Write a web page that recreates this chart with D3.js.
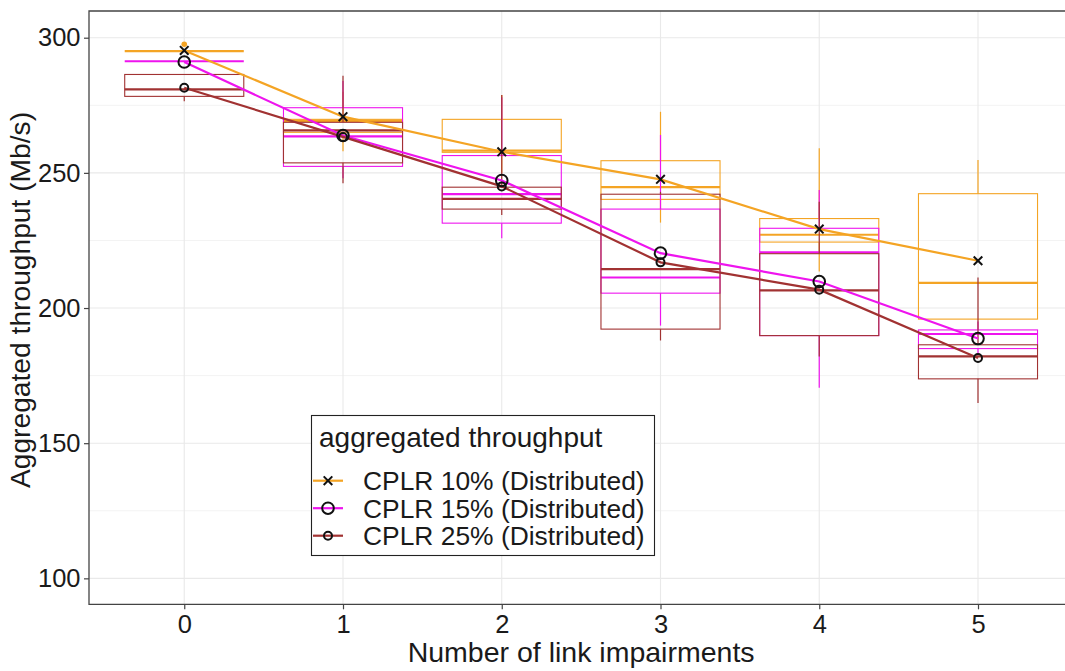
<!DOCTYPE html>
<html>
<head>
<meta charset="utf-8">
<script src="https://cdn.jsdelivr.net/npm/d3@7"></script>
<style>
  html, body { margin: 0; padding: 0; background: #ffffff; }
  svg { display: block; }
  text { font-family: "Liberation Sans", Arial, sans-serif; fill: #1a1a1a; }
</style>
</head>
<body>
<svg id="chart" width="1065" height="671"></svg>
<script>
// Number of link impairments on the x axis
const impairments = [0, 1, 2, 3, 4, 5];
const xTickLabels = ["0", "1", "2", "3", "4", "5"];
const yTicks = [100, 150, 200, 250, 300];
const yMinorTicks = [125, 175, 225, 275];

// Box summaries per impairment count: [lower whisker, Q1, median, Q3, upper whisker]
const cplr10Box = [
  [295.0, 295.0, 295.0, 295.0, 295.0],
  [258.0, 265.0, 269.2, 269.8, 280.0],
  [250.0, 257.6, 258.2, 269.8, 278.8],
  [231.6, 240.2, 244.7, 254.5, 272.6],
  [213.5, 224.4, 227.1, 233.1, 259.1],
  [195.9, 195.9, 209.3, 242.3, 254.8]
];
const cplr15Box = [
  [291.3, 291.3, 291.3, 291.3, 291.3],
  [248.0, 252.4, 263.5, 274.1, 284.0],
  [225.8, 231.4, 242.1, 256.4, 278.0],
  [193.5, 205.5, 211.3, 236.6, 264.0],
  [170.5, 189.8, 220.6, 229.5, 243.7],
  [183.0, 185.0, 190.4, 191.9, 195.0]
];
const cplr25Box = [
  [276.5, 278.3, 280.9, 286.4, 286.4],
  [246.2, 253.7, 265.7, 268.7, 285.9],
  [234.4, 236.6, 240.4, 244.7, 278.8],
  [188.0, 192.2, 214.4, 242.1, 243.0],
  [182.1, 189.8, 206.5, 220.1, 239.3],
  [164.9, 173.8, 182.1, 186.4, 211.3]
];

// Outlying observations (impairments, throughput)
const cplr10OutlierX = [0];
const cplr10OutlierY = [297.6];

// Mean aggregated throughput per impairment count
const cplr10Mean = [295.3, 270.8, 257.8, 247.6, 229.2, 217.5];
const cplr15Mean = [291.0, 263.8, 247.2, 220.3, 209.8, 188.7];
const cplr25Mean = [281.5, 263.3, 245.0, 216.9, 206.8, 181.5];

const seriesNames = ["CPLR 10% (Distributed)", "CPLR 15% (Distributed)", "CPLR 25% (Distributed)"];
const seriesColors = ["#F4A424", "#EE14EE", "#A13232"];
const seriesShapes = ["cross", "bigCircle", "smallCircle"];

const series = [
  { name: seriesNames[0], color: seriesColors[0], shape: seriesShapes[0], box: cplr10Box, mean: cplr10Mean,
    outliers: cplr10OutlierX.map((x, i) => [x, cplr10OutlierY[i]]) },
  { name: seriesNames[1], color: seriesColors[1], shape: seriesShapes[1], box: cplr15Box, mean: cplr15Mean, outliers: [] },
  { name: seriesNames[2], color: seriesColors[2], shape: seriesShapes[2], box: cplr25Box, mean: cplr25Mean, outliers: [] }
];

const svg = d3.select("#chart");
svg.append("rect").attr("width", 1065).attr("height", 671).attr("fill", "#ffffff");

// Panel geometry (right side runs past the canvas edge)
const panel = { left: 89, top: 11, bottom: 604.3 };
const x = d3.scaleLinear().domain([-0.6, 5.6]).range([panel.left, panel.left + 6.2 * 158.75]);
const y = d3.scaleLinear().domain([90.4, 309.88]).range([panel.bottom, panel.top]);
const panelRight = x(5.6);

const g = svg.append("g");

// Grid
g.selectAll(".minor").data(yMinorTicks).join("line")
  .attr("x1", panel.left).attr("x2", panelRight)
  .attr("y1", d => y(d)).attr("y2", d => y(d))
  .attr("stroke", "#F3F3F3").attr("stroke-width", 1);
g.selectAll(".majorY").data(yTicks).join("line")
  .attr("x1", panel.left).attr("x2", panelRight)
  .attr("y1", d => y(d)).attr("y2", d => y(d))
  .attr("stroke", "#E9E9E9").attr("stroke-width", 1.1);
g.selectAll(".majorX").data(impairments).join("line")
  .attr("x1", d => x(d)).attr("x2", d => x(d))
  .attr("y1", panel.top).attr("y2", panel.bottom)
  .attr("stroke", "#E9E9E9").attr("stroke-width", 1.1);

// Box plots
const halfWidth = 0.375;
series.forEach(s => {
  const bg = g.append("g");
  s.box.forEach((b, i) => {
    const cx = x(impairments[i]);
    const [lo, q1, med, q3, hi] = b;
    bg.append("line").attr("x1", cx).attr("x2", cx).attr("y1", y(q3)).attr("y2", y(hi))
      .attr("stroke", s.color).attr("stroke-width", 1.2);
    bg.append("line").attr("x1", cx).attr("x2", cx).attr("y1", y(q1)).attr("y2", y(lo))
      .attr("stroke", s.color).attr("stroke-width", 1.2);
    bg.append("rect")
      .attr("x", x(impairments[i] - halfWidth)).attr("width", x(impairments[i] + halfWidth) - x(impairments[i] - halfWidth))
      .attr("y", y(q3)).attr("height", Math.max(0, y(q1) - y(q3)))
      .attr("fill", "none").attr("stroke", s.color).attr("stroke-width", 1.1);
    bg.append("line")
      .attr("x1", x(impairments[i] - halfWidth)).attr("x2", x(impairments[i] + halfWidth))
      .attr("y1", y(med)).attr("y2", y(med))
      .attr("stroke", s.color).attr("stroke-width", 2.2);
  });
  s.outliers.forEach(o => {
    bg.append("circle").attr("cx", x(o[0])).attr("cy", y(o[1])).attr("r", 2.8).attr("fill", s.color);
  });
});

// Mean lines
const line = d3.line().x((d, i) => x(impairments[i])).y(d => y(d));
series.forEach(s => {
  g.append("path").datum(s.mean).attr("d", line)
    .attr("fill", "none").attr("stroke", s.color).attr("stroke-width", 2.2);
});

function drawMarker(sel, shape, cx, cy) {
  if (shape === "cross") {
    const a = 4.3;
    sel.append("path")
      .attr("d", `M${cx - a},${cy - a}L${cx + a},${cy + a}M${cx - a},${cy + a}L${cx + a},${cy - a}`)
      .attr("stroke", "#111").attr("stroke-width", 2).attr("fill", "none");
  } else if (shape === "bigCircle") {
    sel.append("circle").attr("cx", cx).attr("cy", cy).attr("r", 5.8)
      .attr("fill", "none").attr("stroke", "#111").attr("stroke-width", 2);
  } else {
    sel.append("circle").attr("cx", cx).attr("cy", cy).attr("r", 4)
      .attr("fill", "none").attr("stroke", "#111").attr("stroke-width", 2);
  }
}

// Mean markers
series.forEach(s => {
  s.mean.forEach((m, i) => drawMarker(g, s.shape, x(impairments[i]), y(m)));
});

// Panel border (left, top, bottom)
g.append("path")
  .attr("d", `M${panelRight},${panel.top}H${panel.left}V${panel.bottom}H${panelRight}`)
  .attr("fill", "none").attr("stroke", "#444").attr("stroke-width", 1.3);

// Axes
const yAxis = d3.axisLeft(y).tickValues(yTicks).tickSize(5).tickPadding(4);
const yg = svg.append("g").attr("transform", `translate(${panel.left},0)`).call(yAxis);
const xAxis = d3.axisBottom(x).tickValues(impairments).tickFormat((d, i) => xTickLabels[i]).tickSize(5).tickPadding(6);
const xg = svg.append("g").attr("transform", `translate(0,${panel.bottom})`).call(xAxis);
[yg, xg].forEach(a => {
  a.select(".domain").remove();
  a.selectAll(".tick line").attr("stroke", "#444").attr("stroke-width", 1.2);
  a.selectAll(".tick text").attr("font-family", "Liberation Sans, Arial, sans-serif")
    .attr("font-size", 25.5).attr("fill", "#1a1a1a");
});
yg.selectAll(".tick text").attr("x", -8.5);

// Axis titles
svg.append("text")
  .attr("x", (panel.left + panelRight) / 2).attr("y", 662)
  .attr("text-anchor", "middle").attr("font-size", 28.5)
  .text("Number of link impairments");
svg.append("text")
  .attr("transform", `translate(30,300) rotate(-90)`)
  .attr("text-anchor", "middle").attr("font-size", 28.2)
  .text("Aggregated throughput (Mb/s)");

// Legend
const lg = svg.append("g");
lg.append("rect").attr("x", 311.5).attr("y", 415.5).attr("width", 343).attr("height", 140)
  .attr("fill", "#ffffff").attr("stroke", "#222").attr("stroke-width", 1.1);
lg.append("text").attr("x", 319).attr("y", 447).attr("font-size", 28)
  .text("aggregated throughput");
const rowBase = [490, 517.5, 545];
series.forEach((s, i) => {
  const cy = rowBase[i] - 9.3;
  lg.append("line").attr("x1", 313).attr("x2", 343).attr("y1", cy).attr("y2", cy)
    .attr("stroke", s.color).attr("stroke-width", 2.2);
  drawMarker(lg, s.shape, 328, cy);
  lg.append("text").attr("x", 363).attr("y", rowBase[i]).attr("font-size", 26.4).text(s.name);
});
</script>
</body>
</html>
